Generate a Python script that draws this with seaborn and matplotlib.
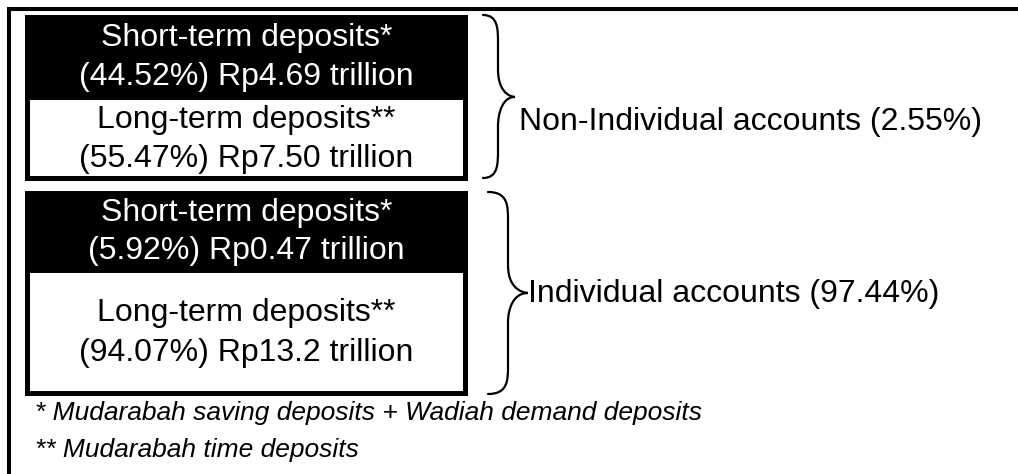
import numpy as np
import matplotlib
matplotlib.use("Agg")
import matplotlib.pyplot as plt
from matplotlib.patches import Rectangle, PathPatch
from matplotlib.path import Path
import seaborn as sns

# account groups and their deposit split
groups = ["Non-Individual accounts", "Individual accounts"]
group_share = [2.55, 97.44]
short_share = [44.52, 5.92]
short_value = ["4.69", "0.47"]
long_share = [55.47, 94.07]
long_value = ["7.50", "13.2"]
footnotes = ["* Mudarabah saving deposits + Wadiah demand deposits",
             "** Mudarabah time deposits"]

sns.set_theme(style="white")
plt.rcParams['font.family'] = ['Liberation Sans', 'DejaVu Sans']
plt.rcParams['text.color'] = 'black'

fig = plt.figure(figsize=(10.18, 4.74), dpi=100)
ax = fig.add_axes([0, 0, 1, 1])
ax.set_xlim(0, 1018)
ax.set_ylim(474, 0)
ax.axis('off')

# outer frame (only top and left visible)
ax.plot([9, 9, 1018], [474, 9, 9], color='black', lw=2.9, solid_joinstyle='miter')

box_x0, box_x1 = 25, 468
box_y = [(15, 180), (191, 395)]
split_y = [100, 273]
border = 5
fs = 23
fs_note = 19


def brace(ax, x0, xm, xt, ytop, ytip, ybot):
    r = 14
    verts = [(x0, ytop),
             (xm, ytop), (xm, ytop + r), (xm, ytop + 2 * r),
             (xm, ytip - 2 * r),
             (xm, ytip), (xt, ytip), (xt, ytip),
             (xm, ytip), (xm, ytip + 2 * r), (xm, ytip + 2 * r),
             (xm, ybot - 2 * r),
             (xm, ybot - r), (xm, ybot), (x0, ybot)]
    codes = [Path.MOVETO,
             Path.CURVE4, Path.CURVE4, Path.CURVE4,
             Path.LINETO,
             Path.CURVE4, Path.CURVE4, Path.CURVE4,
             Path.CURVE4, Path.CURVE4, Path.CURVE4,
             Path.LINETO,
             Path.CURVE4, Path.CURVE4, Path.CURVE4]
    ax.add_patch(PathPatch(Path(verts, codes), fill=False, lw=1.6, color='black',
                           capstyle='round'))


brace_geo = [(483, 498, 515, 97), (488, 508, 528, 293)]
brace_span = [(15, 178), (192, 394)]
label_xy = [(519, 122), (528, 294)]

for i, g in enumerate(groups):
    y0, y1 = box_y[i]
    ys = split_y[i]
    cx = (box_x0 + box_x1) / 2
    # black top segment
    ax.add_patch(Rectangle((box_x0, y0), box_x1 - box_x0, ys - y0,
                           facecolor='black', edgecolor='none'))
    # outlined whole box
    h = border / 2
    ax.add_patch(Rectangle((box_x0 + h, y0 + h), box_x1 - box_x0 - border,
                           y1 - y0 - border, facecolor='none', edgecolor='black',
                           lw=border * 0.72, joinstyle='miter'))
    c1 = (y0 + ys) / 2
    ax.text(cx, c1 - 19.5, "Short-term deposits*", color='white', fontsize=fs,
            ha='center', va='center')
    ax.text(cx, c1 + 19.5, f"({short_share[i]:.2f}%) Rp{short_value[i]} trillion",
            color='white', fontsize=fs, ha='center', va='center')
    c2 = (ys + y1) / 2 - 1
    ax.text(cx, c2 - 19.5, "Long-term deposits**", color='black', fontsize=fs,
            ha='center', va='center')
    ax.text(cx, c2 + 19.5, f"({long_share[i]:.2f}%) Rp{long_value[i]} trillion",
            color='black', fontsize=fs, ha='center', va='center')

    x0, xm, xt, ytip = brace_geo[i]
    brace(ax, x0, xm, xt, brace_span[i][0], ytip, brace_span[i][1])
    lx, ly = label_xy[i]
    ax.text(lx, ly, f"{g} ({group_share[i]:.2f}%)", fontsize=fs,
            ha='left', va='center', color='black')

ax.text(35, 413, footnotes[0], fontsize=fs_note, style='italic', ha='left',
        va='center', color='black')
ax.text(35, 450, footnotes[1], fontsize=fs_note, style='italic', ha='left',
        va='center', color='black')

fig.savefig("out.png", dpi=100, facecolor='white')
